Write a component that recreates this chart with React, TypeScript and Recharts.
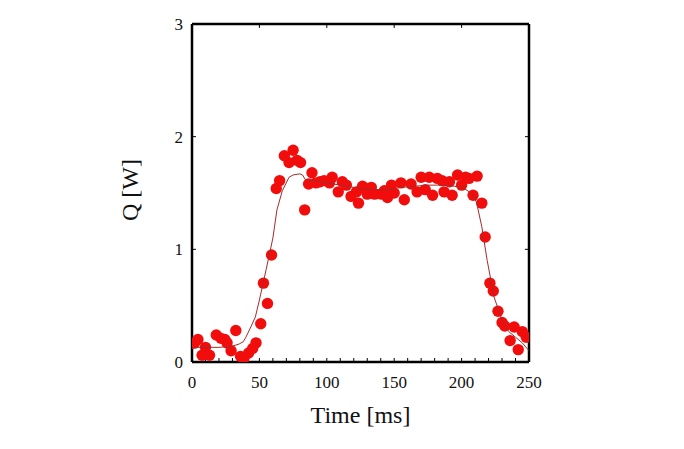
import { ScatterChart, Scatter, XAxis, YAxis, Label, ReferenceLine } from "recharts"

// measured heat flow samples (time in ms, Q in W)
const sampleTime = [
  2, 4.4, 7.5, 10, 13, 18, 21.5, 24.4, 26, 29, 32.5, 36, 38.5, 42, 45, 47.5, 51, 53, 56, 59,
  62.5, 65, 68.5, 72, 75, 78, 80.5, 83.6, 86.5, 89, 92, 95, 98, 102, 104, 108.5, 111.5, 114.5, 118, 122,
  123.5, 126.5, 130, 133, 135.5, 140.5, 142.7, 145, 148, 150, 155, 157.5, 162.5, 167, 170, 173, 176, 178.5, 182, 185.5,
  187, 191, 193, 197, 200, 203, 205.5, 208.5, 211.5, 215, 217.5, 221, 223.5, 227, 230, 232, 236, 239, 242, 245, 248,
]
const sampleQ = [
  0.17, 0.2, 0.06, 0.13, 0.06, 0.24, 0.21, 0.2, 0.17, 0.1, 0.28, 0.05, 0.03, 0.08, 0.12, 0.17, 0.34, 0.7, 0.52, 0.95,
  1.54, 1.61, 1.83, 1.77, 1.88, 1.79, 1.77, 1.35, 1.58, 1.68, 1.59, 1.6, 1.61, 1.59, 1.64, 1.51, 1.6, 1.57, 1.47, 1.51,
  1.41, 1.56, 1.49, 1.55, 1.49, 1.49, 1.52, 1.46, 1.57, 1.5, 1.59, 1.44, 1.58, 1.51, 1.64, 1.53, 1.64, 1.48, 1.63, 1.61,
  1.51, 1.6, 1.48, 1.66, 1.57, 1.64, 1.63, 1.48, 1.65, 1.41, 1.11, 0.7, 0.63, 0.45, 0.35, 0.32, 0.19, 0.31, 0.11, 0.27, 0.22,
]

// fitted curve
const fitTime = [
  0, 5, 10, 20, 30, 35, 38, 40, 44, 47, 50, 55, 60, 63, 67, 72, 75, 80, 82, 84,
  88, 95, 105, 115, 125, 135, 145, 155, 165, 175, 185, 195, 202, 207, 211, 215, 219, 224, 230, 235,
  240, 245, 250,
]
const fitQ = [
  0.12, 0.13, 0.13, 0.13, 0.14, 0.16, 0.18, 0.22, 0.32, 0.4, 0.55, 0.82, 1.1, 1.35, 1.52, 1.64, 1.66, 1.67, 1.66, 1.62,
  1.61, 1.6, 1.58, 1.56, 1.54, 1.53, 1.53, 1.55, 1.56, 1.57, 1.57, 1.56, 1.54, 1.5, 1.42, 1.2, 0.9, 0.58, 0.37, 0.27,
  0.22, 0.17, 0.1,
]

const xTicks = [0, 10, 20, 30, 40, 50, 60, 70, 80, 90, 100, 110, 120, 130, 140, 150, 160, 170, 180, 190, 200, 210, 220, 230, 240, 250]
const xTopTicks = [50, 100, 150, 200]
const yTicks = [0, 1, 2, 3]
const yRightTicks = [1, 2]

const samples = sampleTime.map((t, i) => ({ t, q: sampleQ[i] }))
const fit = fitTime.map((t, i) => ({ t, q: fitQ[i] }))

const font = "'Liberation Serif', 'Times New Roman', serif"
const tickStyle = { fill: "#111", fontSize: 17, fontFamily: font }
const frame = { stroke: "#000", strokeWidth: 2.5 }

export default function App() {
  return (
    <div style={{ width: 676, height: 441, background: "#fff" }}>
      <ScatterChart width={676} height={441} margin={{ top: 16, right: 155, left: 0, bottom: 0 }}>
        <XAxis
          dataKey="t"
          type="number"
          domain={[0, 250]}
          ticks={xTicks}
          interval={0}
          tickFormatter={(v: number) => (v % 50 === 0 ? String(v) : "")}
          tickSize={-4}
          tickMargin={18}
          height={87}
          axisLine={frame}
          tickLine={{ stroke: "#000" }}
          tick={tickStyle}
          allowDataOverflow
        >
          <Label
            value="Time [ms]"
            position="insideBottom"
            offset={26}
            style={{ fontSize: 24, fontFamily: font, fill: "#111" }}
          />
        </XAxis>
        <YAxis
          dataKey="q"
          type="number"
          domain={[0, 3]}
          ticks={yTicks}
          interval={0}
          tickSize={-4}
          tickMargin={13}
          width={184}
          axisLine={frame}
          tickLine={{ stroke: "#000" }}
          tick={tickStyle}
          allowDataOverflow
        >
          <Label
            content={() => (
              <text
                x={122}
                y={182}
                transform="rotate(-90 122 182)"
                textAnchor="middle"
                dominantBaseline="central"
                style={{ fontSize: 24, fontFamily: font, fill: "#111" }}
              >
                Q [W]
              </text>
            )}
          />
        </YAxis>
        {/* top and right sides of the box, with their inward ticks */}
        <ReferenceLine y={3} {...frame} />
        <ReferenceLine x={250} {...frame} />
        {xTopTicks.map((v) => (
          <ReferenceLine key={"xt" + v} segment={[{ x: v, y: 3 }, { x: v, y: 2.965 }]} stroke="#000" />
        ))}
        {yRightTicks.map((v) => (
          <ReferenceLine key={"yr" + v} segment={[{ x: 250, y: v }, { x: 247, y: v }]} stroke="#000" />
        ))}
        <Scatter
          data={samples}
          fill="#f20d0d"
          shape={(p: any) => <circle cx={p.cx} cy={p.cy} r={5.7} fill="#f20d0d" />}
          isAnimationActive={false}
        />
        <Scatter
          data={fit}
          line={{ stroke: "#a52a2a", strokeWidth: 1 }}
          lineType="joint"
          shape={() => <g />}
          isAnimationActive={false}
        />
      </ScatterChart>
    </div>
  )
}
